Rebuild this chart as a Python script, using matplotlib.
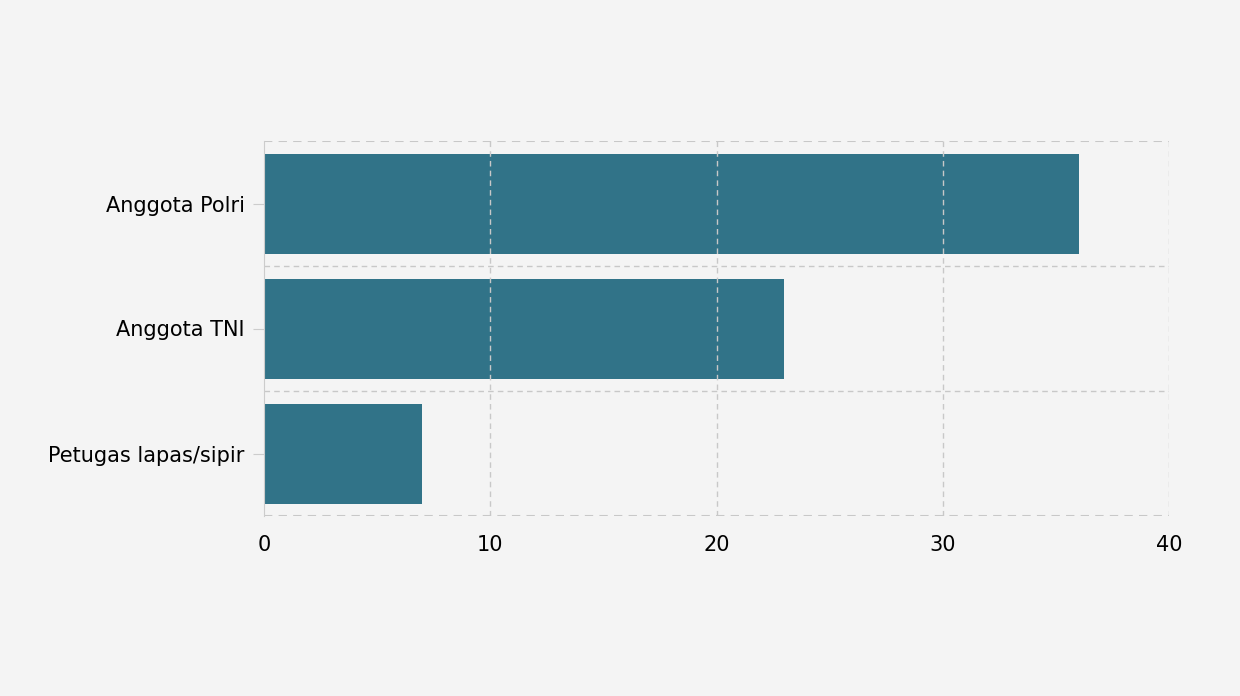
import matplotlib
matplotlib.use("Agg")
import matplotlib.pyplot as plt
import numpy as np

categories = ["Anggota Polri", "Anggota TNI", "Petugas lapas/sipir"]
values = [36, 23, 7]
xticks = [0, 10, 20, 30, 40]

bg = "#f4f4f4"
fig = plt.figure(figsize=(12.4, 6.96), dpi=100, facecolor=bg)
ax = fig.add_axes([264/1240, 1-516/696, (1169-264)/1240, (516-141)/696])
ax.set_facecolor(bg)

y = np.arange(len(categories))
ax.barh(y, values, height=0.8, color="#317388", zorder=1)
ax.set_ylim(len(categories)-0.5, -0.5)
ax.set_xlim(0, 40)
ax.set_yticks(y)
ax.set_yticklabels(categories, fontsize=15)
ax.set_xticks(xticks)
ax.set_xticklabels([str(t) for t in xticks], fontsize=15)
ax.tick_params(axis="y", length=8, color="#cccccc", pad=6)
ax.tick_params(axis="x", length=0, pad=14)

gc = "#c8c8c8"
for t in xticks[1:]:
    ax.axvline(t, color=gc, ls=(0, (4, 3)), lw=1, zorder=2)
for b in [0.5, 1.5]:
    ax.axhline(b, color=gc, ls=(0, (4, 3)), lw=1, zorder=2)
ax.axhline(-0.5, color=gc, ls=(0, (4, 3)), lw=1.5, zorder=2)
ax.axhline(2.5, color=gc, ls=(0, (4, 3)), lw=1.5, zorder=2)
for s in ax.spines.values():
    s.set_visible(False)
ax.spines["left"].set_visible(True)
ax.spines["left"].set_color("#cccccc")

fig.savefig("out.png", dpi=100, facecolor=bg)
